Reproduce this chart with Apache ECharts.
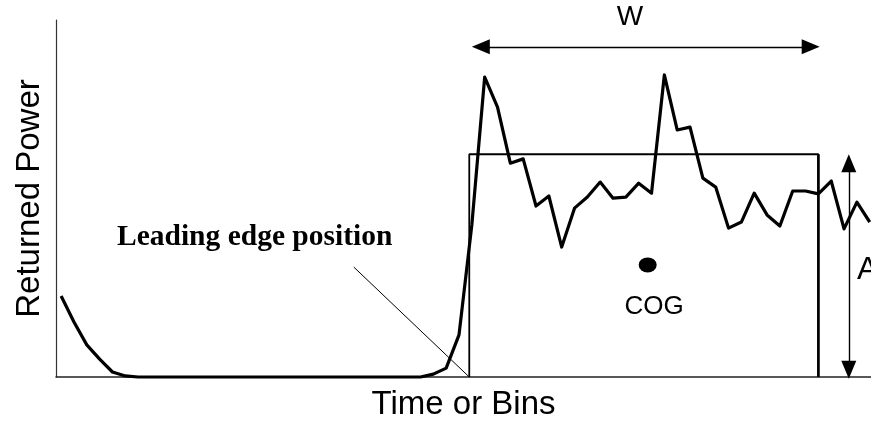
<!DOCTYPE html>
<html>
<head>
<meta charset="utf-8">
<script src="https://cdn.jsdelivr.net/npm/echarts@6/dist/echarts.min.js"></script>
<style>
html,body{margin:0;padding:0;background:#fff;}
#c{width:871px;height:428px;}
</style>
</head>
<body>
<div id="c"></div>
<script>
// Waveform: returned power per bin (arbitrary units, 0..100 = axis height)
const bins = [0,1,2,3,4,5,6,7,8,9,10,11,12,13,14,15,16,17,18,19,20,21,22,23,24,25,26,27,28,29,30,31,32,33,34,35,36,37,38,39,40,41,42,43,44,45,46,47,48,49,50,51,52,53,54,55,56,57,58,59,60,61,62,63];
const power = [22.7,15.4,9.0,5.0,1.4,0.3,
  0,0,0,0,0,0,0,0,0,0,0,0,0,0,0,0,0,0,0,0,0,0,0,
  0.8,2.5,11.8,42.6,84.0,75.6,59.9,61.1,47.9,50.7,36.4,47.3,50.4,54.6,50.1,50.4,54.3,51.5,
  84.6,69.2,70.0,55.7,53.2,41.7,43.4,51.5,45.4,42.3,52.1,52.1,51.3,54.9,41.5,49.0,43.4];

// Fitted box (OCOG retracker): leading edge, trailing edge, amplitude
const boxLeft = 31.8;
const boxRight = 59.0;
const boxAmp = 62.4;
// Centre of gravity
const cogBin = 45.7;
const cogPower = 31.4;
// Leading-edge pointer start
const pointerFrom = [22.8, 30.8];
// Width arrow (bins) and its height; amplitude arrow position
const wArrow = [32.7, 58.4];
const wArrowY = 92.5;
const aArrowX = 61.37;
const aArrow = [2.0, 59.9];

const chart = echarts.init(document.getElementById('c'), null, {renderer:'canvas'});
const waveData = bins.map((b, i) => [b, power[i]]);
const boxData = [[boxLeft,0],[boxLeft,boxAmp],[boxRight,boxAmp],[boxRight,0]];

chart.setOption({
  animation:false,
  backgroundColor:'#fff',
  grid:{left:56,right:0,top:20,bottom:51,containLabel:false,outerBoundsMode:'none'},
  xAxis:{
    type:'value', min:-0.4, max:63.1,
    axisLine:{show:true,onZero:false,lineStyle:{color:'#222',width:1.5}},
    axisTick:{show:false}, axisLabel:{show:false}, splitLine:{show:false},
    name:'Time or Bins', nameLocation:'middle', nameGap:11,
    nameTextStyle:{fontFamily:'Liberation Sans',fontSize:33,color:'#000'}
  },
  yAxis:{
    type:'value', min:0, max:100,
    axisLine:{show:true,onZero:false,lineStyle:{color:'#333',width:1.2}},
    axisTick:{show:false}, axisLabel:{show:false}, splitLine:{show:false},
    name:'Returned Power', nameLocation:'middle', nameGap:10, nameRotate:90,
    nameTextStyle:{fontFamily:'Liberation Sans',fontSize:33,color:'#000'}
  },
  series:[
    {
      type:'line', data:boxData, symbol:'none', z:2, clip:false,
      lineStyle:{color:'#000',width:1.8},
      markLine:{
        silent:true, symbol:['none','none'],
        label:{show:false},
        lineStyle:{color:'#000',width:1,type:'solid'},
        data:[
          [{coord:pointerFrom},{coord:[boxLeft,0]}]
        ]
      }
    },
    {
      type:'line', data:[[boxRight,0],[boxRight,boxAmp]], symbol:'none', z:2,
      lineStyle:{color:'#000',width:2.6}
    },
    {
      type:'line', data:waveData, symbol:'none', z:5, clip:false,
      lineStyle:{color:'#000',width:3.2,join:'round'}
    },
    {
      type:'scatter', data:[[cogBin,cogPower]], symbol:'circle', symbolSize:[18,15],
      itemStyle:{color:'#000',opacity:1}, z:6,
      markLine:{
        silent:true, symbol:['triangle','triangle'], symbolSize:[15,18],
        label:{show:false},
        lineStyle:{color:'#000',width:1.4,type:'solid'},
        data:[
          [{coord:[wArrow[0],wArrowY]},{coord:[wArrow[1],wArrowY]}],
          [{coord:[aArrowX,aArrow[0]]},{coord:[aArrowX,aArrow[1]]}]
        ]
      }
    }
  ],
  graphic:[
    {type:'text', left:117, top:222, style:{text:'Leading edge position', font:'bold 29.5px "Liberation Serif"', fill:'#000'}},
    {type:'text', x:630, y:17, style:{text:'W', font:'28px "Liberation Sans"', fill:'#000', align:'center', verticalAlign:'middle'}},
    {type:'text', x:654, y:307, style:{text:'COG', font:'26px "Liberation Sans"', fill:'#000', align:'center', verticalAlign:'middle'}},
    {type:'text', x:857, y:270, style:{text:'A', font:'32px "Liberation Sans"', fill:'#000', align:'left', verticalAlign:'middle'}}
  ]
});
</script>
</body>
</html>
